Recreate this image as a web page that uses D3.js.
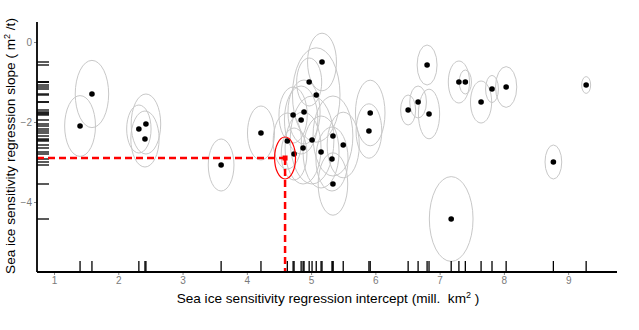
<!DOCTYPE html>
<html>
<head>
<meta charset="utf-8">
<script src="https://cdn.jsdelivr.net/npm/d3@7"></script>
<style>
  html, body { margin: 0; padding: 0; background: #fff; }
  svg { display: block; font-family: "Liberation Sans", Arial, sans-serif; }
</style>
</head>
<body>
<svg id="chart" width="639" height="330"></svg>
<script>
// ---- data ----
const intercept = [1.405, 1.59, 2.32, 2.43, 2.415, 3.6, 4.22,
  4.63, 4.735, 4.72, 4.89, 4.845, 4.97, 5.08, 5.17, 5.015, 4.875, 5.34, 5.5, 5.155, 5.325, 5.34,
  5.92, 5.9, 6.51, 6.665, 6.835, 6.805, 7.18, 7.30, 7.40, 7.645, 7.815, 8.035, 8.77, 9.28];
const slope = [-2.1, -1.3, -2.175, -2.05, -2.425, -3.075, -2.275,
  -2.475, -2.8, -1.825, -1.75, -1.95, -1.0, -1.325, -0.5, -2.45, -2.65, -2.35, -2.575, -2.75, -2.925, -3.55,
  -1.775, -2.225, -1.7, -1.5, -1.8, -0.575, -4.425, -1.0, -1.0, -1.5, -1.175, -1.125, -3.0, -1.075];
const interceptSD = [0.24, 0.26, 0.19, 0.23, 0.22, 0.2, 0.21,
  0.22, 0.2, 0.22, 0.25, 0.26, 0.195, 0.37, 0.225, 0.34, 0.28, 0.31, 0.25, 0.28, 0.25, 0.23,
  0.23, 0.2, 0.117, 0.13, 0.165, 0.155, 0.34, 0.165, 0.095, 0.165, 0.1, 0.165, 0.13, 0.07];
const slopeSD = [0.76, 0.84, 0.6, 0.75, 0.7, 0.65, 0.675,
  0.7, 0.65, 0.7, 0.8, 0.85, 0.6, 1.18, 0.72, 1.1, 0.9, 1.0, 0.82, 0.9, 0.8, 0.78,
  0.82, 0.68, 0.375, 0.4, 0.62, 0.5, 1.06, 0.525, 0.3, 0.525, 0.34, 0.51, 0.425, 0.21];
const obsIntercept = [4.595];
const obsSlope = [-2.9];
const obsInterceptSD = [0.163];
const obsSlopeSD = [0.525];
const xTicks = [1, 2, 3, 4, 5, 6, 7, 8, 9];
const yTicks = [0, -2, -4];

// ---- layout ----
const svg = d3.select("#chart");
const x = d3.scaleLinear().domain([0.735, 9.76]).range([37, 617]);
const y = d3.scaleLinear().domain([0.5, -5.75]).range([22, 272]);
const x0 = x.range()[0], y0 = y.range()[1];

const pts = intercept.map((d, i) => ({x: d, y: slope[i], sx: interceptSD[i], sy: slopeSD[i]}));
const obs = obsIntercept.map((d, i) => ({x: d, y: obsSlope[i], sx: obsInterceptSD[i], sy: obsSlopeSD[i]}));

// ellipses
svg.append("g").selectAll("ellipse").data(pts).join("ellipse")
  .attr("cx", d => x(d.x)).attr("cy", d => y(d.y))
  .attr("rx", d => x(d.x + d.sx) - x(d.x))
  .attr("ry", d => y(d.y - d.sy) - y(d.y))
  .attr("fill", "none").attr("stroke", "#c8c8c8").attr("stroke-width", 1);

// rugs
svg.append("g").selectAll("line").data(pts).join("line")
  .attr("x1", d => x(d.x)).attr("x2", d => x(d.x))
  .attr("y1", y0).attr("y2", y0 - 11)
  .attr("stroke", "#000").attr("stroke-width", 1.3);
svg.append("g").selectAll("line").data(pts).join("line")
  .attr("y1", d => y(d.y)).attr("y2", d => y(d.y))
  .attr("x1", x0).attr("x2", x0 + 12)
  .attr("stroke", "#000").attr("stroke-width", 1.3);

// points
svg.append("g").selectAll("circle").data(pts).join("circle")
  .attr("cx", d => x(d.x)).attr("cy", d => y(d.y)).attr("r", 2.8)
  .attr("fill", "#000");

// observation (red)
const og = svg.append("g");
obs.forEach(d => {
  og.append("line").attr("x1", x0).attr("x2", x(d.x)).attr("y1", y(d.y)).attr("y2", y(d.y))
    .attr("stroke", "#ff0000").attr("stroke-width", 2.5).attr("stroke-dasharray", "7,4");
  og.append("line").attr("x1", x(d.x)).attr("x2", x(d.x)).attr("y1", y(d.y)).attr("y2", y0)
    .attr("stroke", "#ff0000").attr("stroke-width", 2.5).attr("stroke-dasharray", "7,4");
  og.append("ellipse").attr("cx", x(d.x)).attr("cy", y(d.y))
    .attr("rx", x(d.x + d.sx) - x(d.x)).attr("ry", y(d.y - d.sy) - y(d.y))
    .attr("fill", "none").attr("stroke", "#ff0000").attr("stroke-width", 1.2);
  og.append("rect").attr("x", x(d.x) - 2.5).attr("y", y(d.y) - 2.5).attr("width", 5).attr("height", 5)
    .attr("fill", "#ff0000");
});

// axes
const gx = svg.append("g").attr("transform", `translate(0,${y0})`)
  .call(d3.axisBottom(x).tickValues(xTicks).tickSize(3).tickPadding(2).tickFormat(d3.format("d")));
const gy = svg.append("g").attr("transform", `translate(${x0},0)`)
  .call(d3.axisLeft(y).tickValues(yTicks).tickSize(3).tickPadding(2).tickFormat(d3.format("d")));
[gx, gy].forEach(g => {
  g.select(".domain").remove();
  g.selectAll(".tick line").attr("stroke", "#888");
  g.selectAll(".tick text").attr("fill", "#7a7a7a").style("font-size", "10px")
    .style("font-family", "'Liberation Sans', Arial, sans-serif");
});
svg.append("line").attr("x1", x0).attr("x2", x.range()[1]).attr("y1", y0).attr("y2", y0)
  .attr("stroke", "#000").attr("stroke-width", 1.8);
svg.append("line").attr("x1", x0).attr("x2", x0).attr("y1", y.range()[0]).attr("y2", y0)
  .attr("stroke", "#000").attr("stroke-width", 1.8);

// axis titles
const xt = svg.append("text").attr("x", 328).attr("y", 303).attr("text-anchor", "middle")
  .style("font-size", "13.6px").attr("fill", "#000");
xt.append("tspan").text("Sea ice sensitivity regression intercept (mill.\u00a0 km");
xt.append("tspan").attr("dy", -5).style("font-size", "9px").text("2");
xt.append("tspan").attr("dy", 5).text(" )");

const yt = svg.append("text").attr("transform", "translate(15,146) rotate(-90)")
  .attr("text-anchor", "middle").style("font-size", "13.6px").attr("fill", "#000");
yt.append("tspan").text("Sea ice sensitivity regression slope ( m");
yt.append("tspan").attr("dy", -5).style("font-size", "9px").text("2");
yt.append("tspan").attr("dy", 5).text(" /t)");
</script>
</body>
</html>
